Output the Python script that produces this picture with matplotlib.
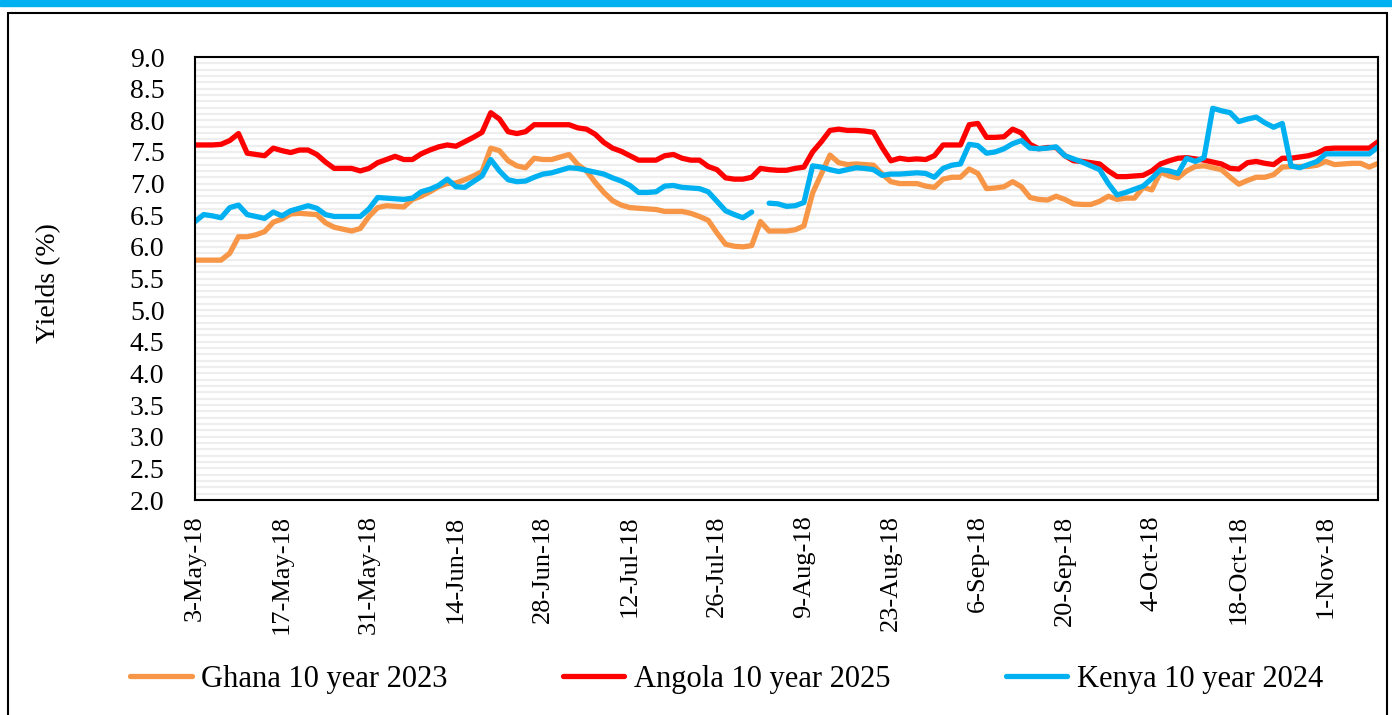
import numpy as np
import pandas as pd
import matplotlib
matplotlib.use('Agg')
import matplotlib.pyplot as plt
from matplotlib.patches import Rectangle

plt.rcParams['font.family'] = ['Liberation Serif', 'DejaVu Serif']

# business days, 3-May-18 .. 9-Nov-18
dates = pd.bdate_range('2018-05-03', periods=137)
labels = ['Ghana 10 year 2023', 'Angola 10 year 2025', 'Kenya 10 year 2024']
nan = float('nan')

ghana = [5.79, 5.79, 5.79, 5.79, 5.90, 6.16, 6.16, 6.19, 6.24, 6.39,
         6.44, 6.52, 6.53, 6.52, 6.51, 6.38, 6.31, 6.28, 6.25, 6.29,
         6.48, 6.62, 6.65, 6.64, 6.63, 6.75, 6.80, 6.87, 6.95, 7.00,
         7.01, 7.06, 7.12, 7.19, 7.56, 7.52, 7.36, 7.28, 7.25, 7.40,
         7.38, 7.38, 7.42, 7.46, 7.30, 7.20, 7.02, 6.86, 6.73, 6.66,
         6.62, 6.61, 6.60, 6.59, 6.56, 6.56, 6.56, 6.53, 6.48, 6.42,
         6.22, 6.04, 6.01, 6.00, 6.02, 6.40, 6.25, 6.25, 6.25, 6.27,
         6.33, 6.85, 7.15, 7.45, 7.33, 7.30, 7.31, 7.30, 7.29, 7.15,
         7.03, 7.00, 7.00, 7.00, 6.96, 6.94, 7.07, 7.10, 7.10, 7.23,
         7.16, 6.92, 6.93, 6.95, 7.03, 6.95, 6.78, 6.75, 6.74, 6.80,
         6.75, 6.68, 6.67, 6.67, 6.72, 6.80, 6.75, 6.77, 6.77, 6.94,
         6.90, 7.18, 7.12, 7.09, 7.20, 7.27, 7.28, 7.25, 7.22, 7.10,
         6.99, 7.05, 7.10, 7.10, 7.14, 7.26, 7.27, 7.27, 7.27, 7.29,
         7.35, 7.30, 7.31, 7.32, 7.32, 7.26, 7.32]

angola = [7.61, 7.61, 7.61, 7.62, 7.68, 7.79, 7.48, 7.46, 7.44, 7.56,
          7.52, 7.49, 7.53, 7.53, 7.46, 7.34, 7.24, 7.24, 7.24, 7.20,
          7.24, 7.33, 7.38, 7.43, 7.38, 7.38, 7.47, 7.53, 7.58, 7.61,
          7.59, 7.66, 7.73, 7.81, 8.12, 8.02, 7.82, 7.79, 7.82, 7.93,
          7.93, 7.93, 7.93, 7.93, 7.88, 7.86, 7.78, 7.65, 7.56, 7.51,
          7.44, 7.37, 7.37, 7.37, 7.44, 7.46, 7.40, 7.37, 7.37, 7.27,
          7.22, 7.09, 7.07, 7.07, 7.10, 7.24, 7.22, 7.21, 7.21, 7.24,
          7.26, 7.50, 7.66, 7.84, 7.86, 7.84, 7.84, 7.83, 7.81, 7.57,
          7.36, 7.40, 7.38, 7.39, 7.38, 7.44, 7.61, 7.61, 7.61, 7.93,
          7.95, 7.73, 7.73, 7.74, 7.86, 7.80, 7.62, 7.55, 7.57, 7.57,
          7.44, 7.36, 7.35, 7.33, 7.31, 7.20, 7.11, 7.11, 7.12, 7.13,
          7.20, 7.31, 7.36, 7.40, 7.41, 7.39, 7.37, 7.34, 7.31, 7.24,
          7.23, 7.33, 7.35, 7.32, 7.30, 7.40, 7.40, 7.42, 7.44, 7.48,
          7.55, 7.56, 7.56, 7.56, 7.56, 7.56, 7.66]

kenya = [6.40, 6.51, 6.49, 6.46, 6.62, 6.66, 6.51, 6.48, 6.45, 6.55,
         6.49, 6.57, 6.61, 6.65, 6.61, 6.51, 6.48, 6.48, 6.48, 6.48,
         6.60, 6.78, 6.77, 6.76, 6.75, 6.77, 6.87, 6.91, 6.97, 7.07,
         6.95, 6.94, 7.03, 7.12, 7.38, 7.20, 7.06, 7.03, 7.04, 7.10,
         7.15, 7.17, 7.21, 7.25, 7.24, 7.21, 7.18, 7.15, 7.09, 7.04,
         6.97, 6.86, 6.86, 6.87, 6.96, 6.97, 6.94, 6.93, 6.92, 6.87,
         6.72, 6.57, 6.51, 6.46, 6.55, nan, 6.69, 6.68, 6.64, 6.65,
         6.70, 7.28, 7.26, 7.22, 7.19, 7.22, 7.25, 7.24, 7.22, 7.13,
         7.15, 7.15, 7.16, 7.17, 7.16, 7.10, 7.24, 7.29, 7.31, 7.62,
         7.60, 7.48, 7.50, 7.55, 7.63, 7.68, 7.56, 7.55, 7.56, 7.58,
         7.44, 7.39, 7.34, 7.28, 7.22, 7.00, 6.82, 6.86, 6.91, 6.96,
         7.08, 7.22, 7.20, 7.16, 7.40, 7.35, 7.41, 8.19, 8.15, 8.12,
         7.98, 8.02, 8.05, 7.96, 7.89, 7.95, 7.28, 7.25, 7.30, 7.35,
         7.47, 7.47, 7.47, 7.47, 7.47, 7.47, 7.58]

colors = ['#F79646', '#FF0000', '#00B0F0']

W, H = 1392, 715
fig = plt.figure(figsize=(W / 100, H / 100), dpi=100)

# top blue strip and outer frame
fig.patches.append(Rectangle((0, 1 - 6 / H), 1, 6 / H, transform=fig.transFigure,
                             color='#00B0F0', zorder=0))
fig.patches.append(Rectangle((8 / W, -0.02), (1387 - 8) / W, (H - 13) / H + 0.02,
                             transform=fig.transFigure, fill=False,
                             ec='black', lw=1.5, zorder=0))

ax = fig.add_axes([195 / W, 1 - 500 / H, (1378 - 195) / W, (500 - 57) / H])
x = np.arange(len(dates))
for vals, c, lab in zip([ghana, angola, kenya], colors, labels):
    ax.plot(x, vals, color=c, lw=3.8, label=lab, solid_capstyle='round',
            solid_joinstyle='round')

ax.set_xlim(0, len(dates) - 1)
ax.set_ylim(2, 9)
yt = np.arange(2, 9.01, 0.5)
ax.set_yticks(yt)
ax.set_yticklabels(['%.1f' % v for v in yt])
ax.set_yticks(np.arange(2, 9.01, 0.1), minor=True)
ax.grid(axis='y', which='both', color='#eeeeee', lw=1.6)
ax.set_axisbelow(True)
ax.tick_params(axis='y', which='both', length=0, pad=22, labelsize=20)

ax.set_xticks(x[::10])
ax.set_xticklabels([f'{d.day}-{d:%b-%y}' for d in dates[::10]], rotation=90)
ax.tick_params(axis='x', length=0, pad=11, labelsize=19)

for sp in ax.spines.values():
    sp.set_linewidth(1.5)
    sp.set_color('black')

ax.set_ylabel('Yields (%)', fontsize=20)
ax.yaxis.set_label_coords((61 - 195) / 1183, 0.49)

h, l = ax.get_legend_handles_labels()
fig.legend(h, l, loc='center', bbox_to_anchor=(0.522, 0.05), ncol=3,
           frameon=False, fontsize=22, handlelength=2.0, handletextpad=0.3,
           columnspacing=3.8)

fig.savefig('out.png', dpi=100)
